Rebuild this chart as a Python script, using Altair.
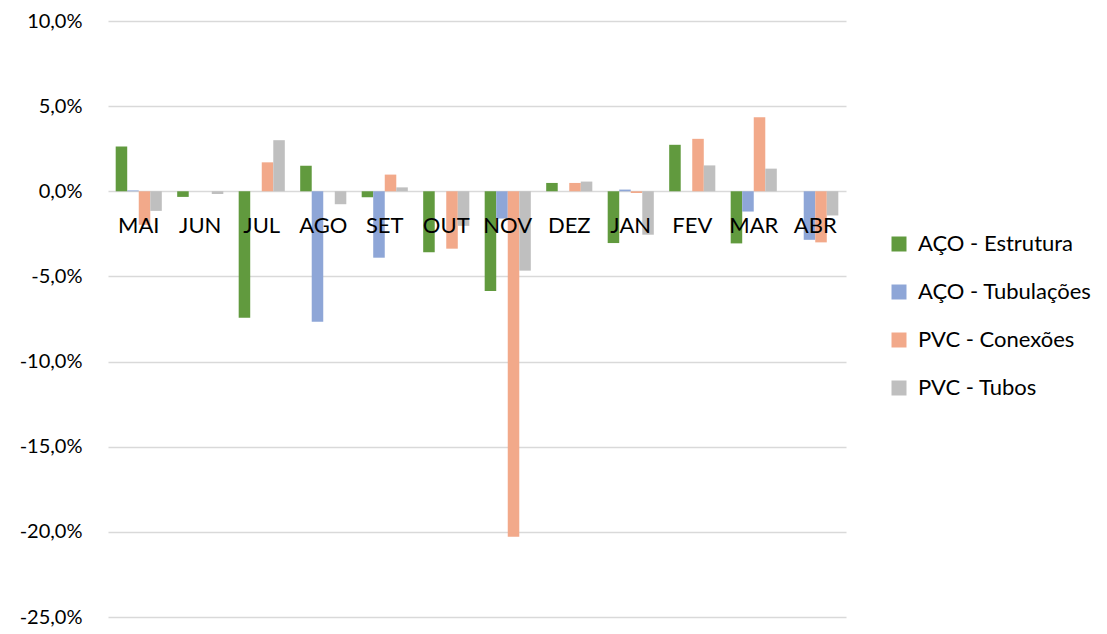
import altair as alt
import pandas as pd

months = ["MAI", "JUN", "JUL", "AGO", "SET", "OUT", "NOV", "DEZ", "JAN", "FEV", "MAR", "ABR"]
series = ["AÇO - Estrutura", "AÇO - Tubulações", "PVC - Conexões", "PVC - Tubos"]
estrutura = [2.63, -0.33, -7.43, 1.50, -0.35, -3.58, -5.85, 0.49, -3.04, 2.73, -3.06, 0.0]
tubulacoes = [0.05, 0.0, 0.0, -7.66, -3.90, 0.0, -1.6, 0.0, 0.10, 0.0, -1.19, -2.85]
conexoes = [-1.97, 0.0, 1.70, 0.0, 0.98, -3.37, -20.29, 0.49, -0.10, 3.08, 4.35, -3.00]
tubos = [-1.15, -0.16, 3.00, -0.76, 0.23, -2.03, -4.66, 0.57, -2.55, 1.52, 1.33, -1.42]
colors = ["#619A3E", "#8EA6D7", "#F2A98A", "#BFBFBF"]
y_ticks = [10, 5, 0, -5, -10, -15, -20, -25]

rows = []
for name, vals in zip(series, [estrutura, tubulacoes, conexoes, tubos]):
    for m, v in zip(months, vals):
        rows.append({"mes": m, "serie": name, "valor": v})
df = pd.DataFrame(rows)
labels_df = pd.DataFrame({"mes": months})

FONT = "Lato"

x_enc = alt.X("mes:N", sort=months, axis=None,
              scale=alt.Scale(paddingInner=0.25, paddingOuter=0.125))

bars = alt.Chart(df).mark_bar().encode(
    x=x_enc,
    xOffset=alt.XOffset("serie:N", sort=series, scale=alt.Scale(paddingInner=0)),
    y=alt.Y("valor:Q", title=None,
            scale=alt.Scale(domain=[-25, 10], nice=False),
            axis=alt.Axis(values=y_ticks, grid=True, gridColor="#D9D9D9", gridWidth=1.5,
                          domain=False, ticks=False, labelPadding=26,
                          labelFont=FONT, labelFontSize=20, labelColor="#000000",
                          labelExpr="(datum.value < 0 ? '-' : '') + replace(format(abs(datum.value), '.1f'), '.', ',') + '%'")),
    color=alt.Color("serie:N", sort=series,
                    scale=alt.Scale(domain=series, range=colors),
                    legend=alt.Legend(title=None, orient="none", legendX=780, legendY=212,
                                      symbolType="square", symbolSize=225, symbolStrokeWidth=0,
                                      labelFont=FONT, labelFontSize=22, labelColor="#000000",
                                      labelOffset=8, rowPadding=26, labelLimit=300)),
)

texts = alt.Chart(labels_df).mark_text(
    baseline="alphabetic", align="center", dy=42, font=FONT, fontSize=22, color="#000000"
).encode(
    x=alt.X("mes:N", sort=months, axis=None),
    y=alt.datum(0),
    text="mes:N",
)

chart = alt.layer(bars, texts).properties(
    width=738, height=596,
    autosize=alt.AutoSizeParams(type="none"),
    padding={"left": 100, "top": 13, "right": 250, "bottom": 15},
).configure_view(stroke=None)

chart.save("out.html", embed_options={"renderer": "svg", "actions": False})
